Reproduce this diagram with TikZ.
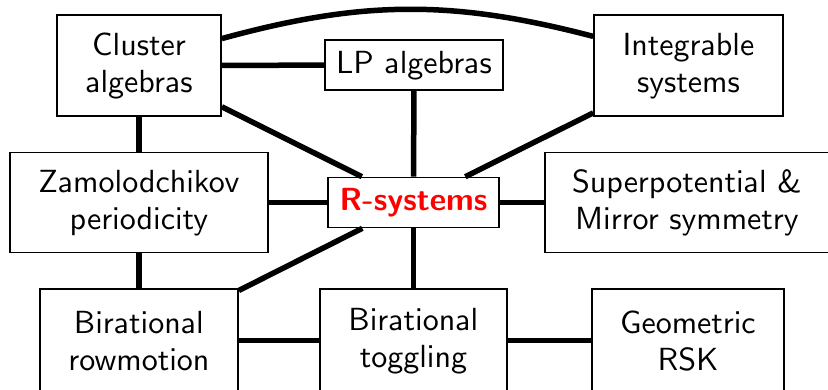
\documentclass[tikz,border=0pt]{standalone}
\font\regsans=cmss10 at 32pt
\begin{document}
\begin{tikzpicture}[x=1pt, y=1pt,
    box/.style={draw, line width=1.6pt, align=center, inner sep=0pt, fill=white,
        font=\fontsize{32}{37}\selectfont\regsans},
    link/.style={line width=5.5pt}]
    \useasboundingbox (0,0) rectangle (828,-389);
    \clip (0,0) rectangle (828,-389);
    % top row
    \node[box, minimum width=164, minimum height=101] (clus) at (139,-65.5) {Cluster\\algebras};
    \node[box, minimum width=178, minimum height=50] (lp) at (414,-65) {LP algebras};
    \node[box, minimum width=189, minimum height=101] (integ) at (688.5,-65.5) {Integrable\\systems};
    % middle row
    \node[box, minimum width=258, minimum height=100] (zam) at (139,-202.5) {Zamolodchikov\\periodicity};
    \node[box, minimum width=171, minimum height=50, text=red, font=\sffamily\bfseries\fontsize{32}{37}\selectfont] (rsys) at (413.5,-202.5) {R-systems};
    \node[box, minimum width=284, minimum height=100] (super) at (687,-202.5) {Superpotential \&\\Mirror symmetry};
    % bottom row
    \node[box, minimum width=198, minimum height=103] (rowm) at (139,-340.5) {Birational\\rowmotion};
    \node[box, minimum width=187, minimum height=103] (togg) at (413.5,-340.5) {Birational\\toggling};
    \node[box, minimum width=192, minimum height=103] (rsk) at (688,-340.5) {Geometric\\RSK};
    % links
    \draw[link] (clus.18) to[bend left=15] (integ.163);
    \draw[link] (clus) -- (lp);
    \draw[link] (clus) -- (rsys);
    \draw[link] (lp) -- (rsys);
    \draw[link] (integ) -- (rsys);
    \draw[link] (clus) -- (zam);
    \draw[link] (zam) -- (rsys);
    \draw[link] (rsys) -- (super);
    \draw[link] (zam) -- (rowm);
    \draw[link] (rsys) -- (rowm);
    \draw[link] (rsys) -- (togg);
    \draw[link] (rowm) -- (togg);
    \draw[link] (togg) -- (rsk);
\end{tikzpicture}
\end{document}
